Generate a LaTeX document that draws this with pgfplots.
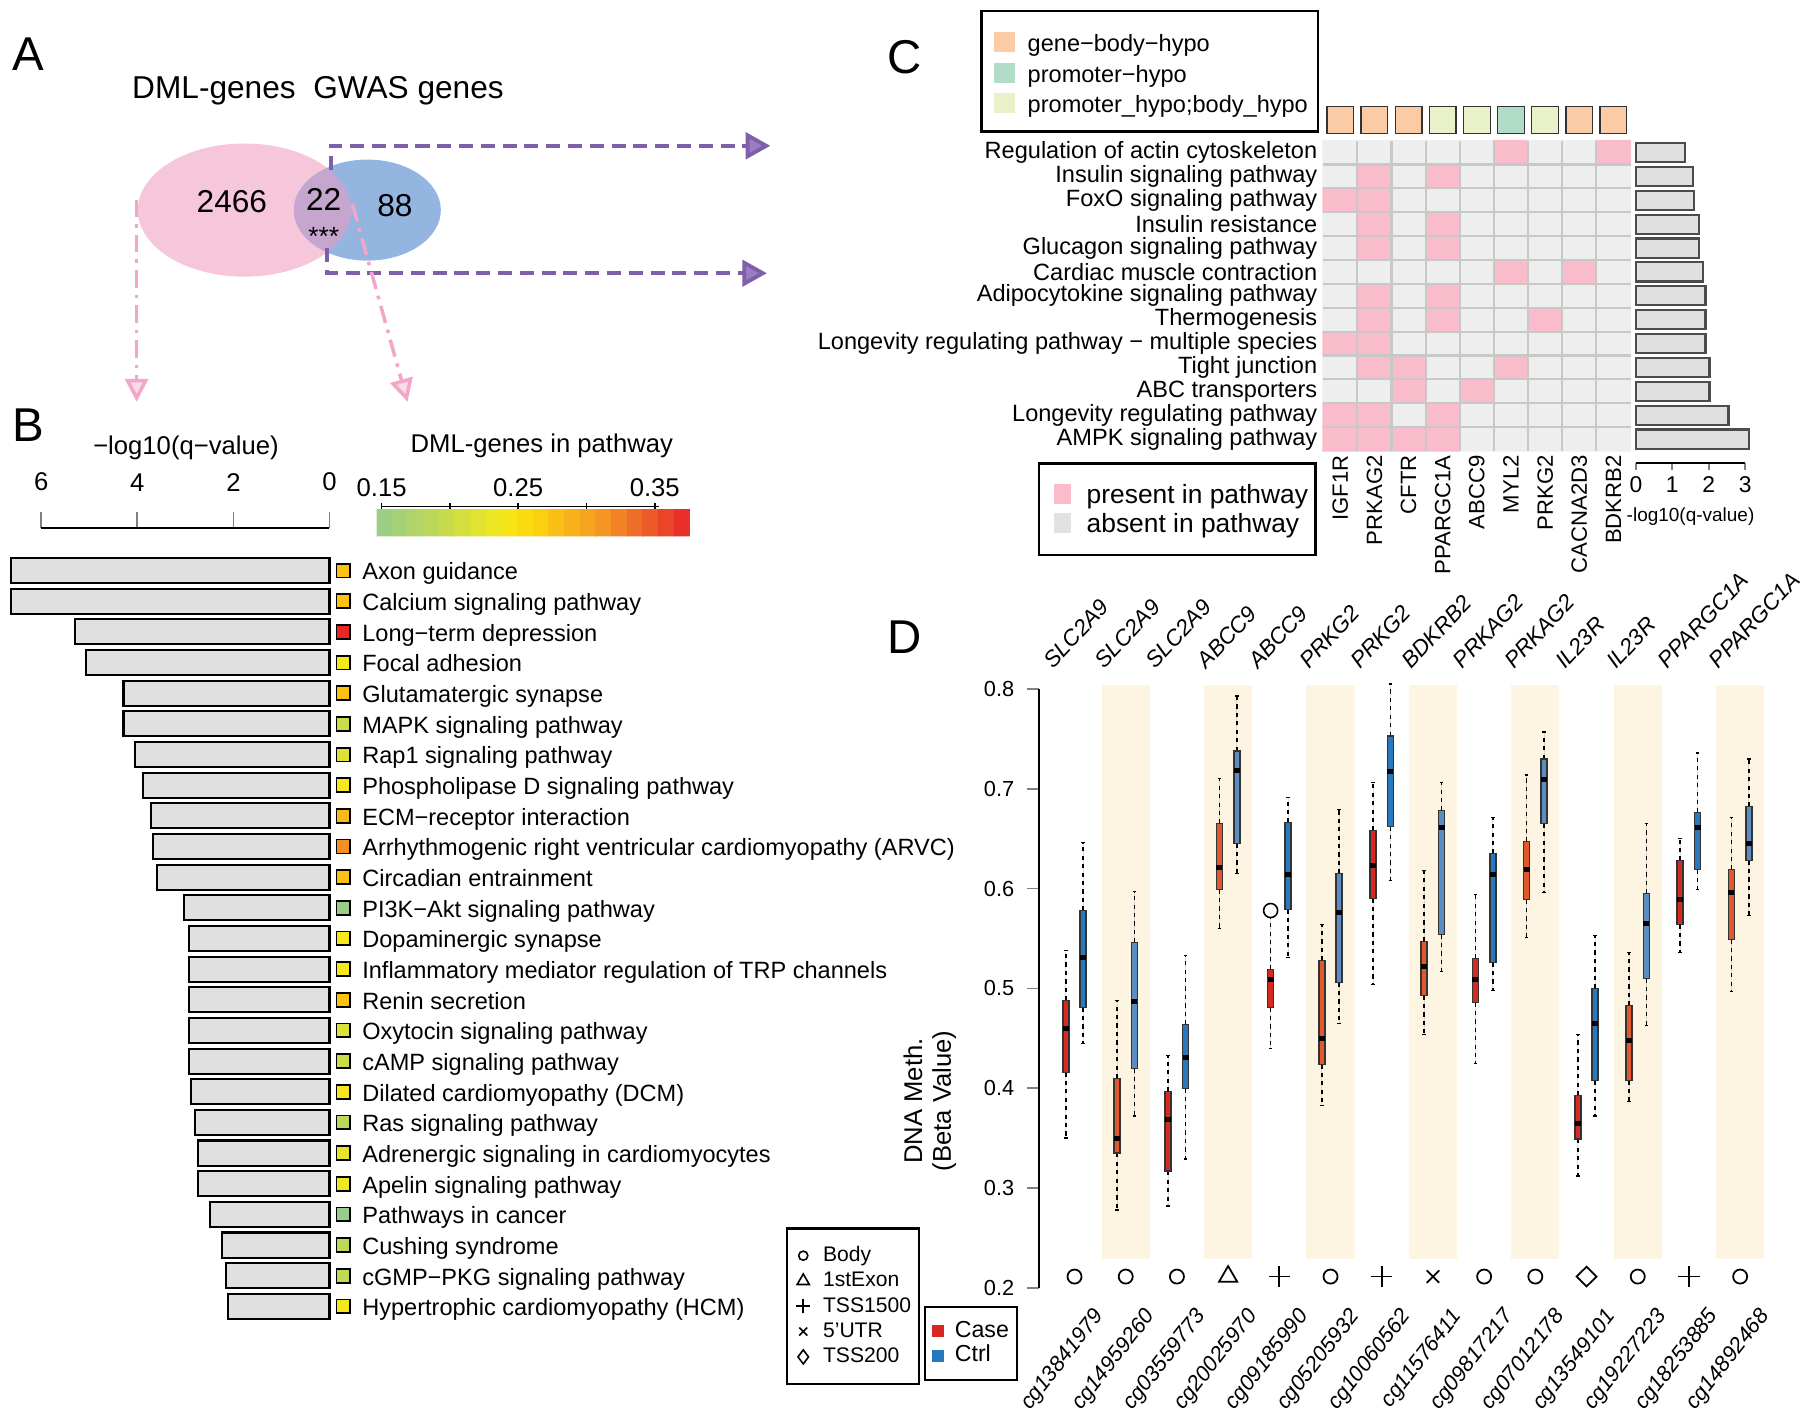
\documentclass[border=0pt]{standalone}
\usepackage{pgfplots}
\pgfplotsset{compat=1.18}
\usepgfplotslibrary{statistics}
\usetikzlibrary{arrows.meta}
\usepackage{fontspec}
\setmainfont{Liberation Sans}
\newcommand\fs[1]{\fontsize{#1}{#1}\selectfont}

\definecolor{vpink}{HTML}{F6C6DB}
\definecolor{vblue}{HTML}{93B5DF}
\definecolor{vmix}{HTML}{C4A6CE}
\definecolor{arrpur}{HTML}{7E5FAA}
\definecolor{arrpurl}{HTML}{9A7EC2}
\definecolor{arrpink}{HTML}{F2A6C8}
\definecolor{bargray}{HTML}{E0E0E0}
\definecolor{hmgray}{HTML}{EEEEEE}
\definecolor{hmpink}{HTML}{F8BCCA}
\definecolor{hmline}{HTML}{C8C8C8}
\definecolor{anpeach}{HTML}{FBCBA6}
\definecolor{anmint}{HTML}{B0DCC8}
\definecolor{anpale}{HTML}{E8F1C8}
\definecolor{band}{HTML}{FDF4E1}
\definecolor{caseU}{HTML}{D42A22}
\definecolor{caseS}{HTML}{E0582C}
\definecolor{ctrlU}{HTML}{2878BE}
\definecolor{ctrlS}{HTML}{5B8DC2}
\definecolor{boxedge}{HTML}{333333}

% one prepared box: position, lower whisker, q1, median, q3, upper whisker, fill
\newcommand\bx[7]{\addplot[forget plot, boxplot prepared={draw direction=y,
  draw position=#1, lower whisker=#2, lower quartile=#3, median=#4,
  upper quartile=#5, upper whisker=#6}, fill=#7, draw=boxedge] coordinates {};}

\begin{document}
\begin{tikzpicture}
\path[use as bounding box] (0,0) rectangle (180mm,-142.35mm);

% ---------------- text and Venn diagram (units: 1568x1240 frame)
\begin{scope}[x=0.1148mm,y=-0.1148mm]
\node[font=\fs{13.5}] at (25,47) {A};
\node[font=\fs{13.5}] at (25,370) {B};
\node[font=\fs{13.5}] at (788,50) {C};
\node[font=\fs{13.5}] at (788,555) {D};

\node[font=\fs{9}] at (277,79) {DML-genes\ \ GWAS genes};
\fill[vpink] (213,183) ellipse [x radius=93, y radius=58];
\fill[vblue] (320,183) ellipse [x radius=64, y radius=44];
\begin{scope}
\clip (213,183) ellipse [x radius=93, y radius=58];
\fill[vmix] (320,183) ellipse [x radius=64, y radius=44];
\end{scope}
\node[font=\fs{9}] at (202,176) {2466};
\node[font=\fs{9}] at (282,174) {22};
\node[font=\fs{7.5}] at (282,206) {***};
\node[font=\fs{9}] at (344,179) {88};
\draw[arrpur, line width=1.1pt, dash pattern=on 4pt off 2.2pt,
  -{Triangle[length=7pt,width=7.5pt,fill=arrpurl]}] (288,148) -- (288,127) -- (671,127);
\draw[arrpur, line width=1.1pt, dash pattern=on 4pt off 2.2pt,
  -{Triangle[length=7pt,width=7.5pt,fill=arrpurl]}] (285,216) -- (285,238) -- (668,238);
\draw[arrpink, line width=1pt, dash pattern=on 5pt off 2pt on 1pt off 2pt,
  -{Triangle[length=6.5pt,width=6.5pt,fill=arrpink!40]}] (119,174) -- (119,350);
\draw[arrpink, line width=1pt, dash pattern=on 5pt off 2pt on 1pt off 2pt,
  -{Triangle[length=6.5pt,width=6.5pt,fill=arrpink!40]}] (307,178) -- (355,350);

% panel B text
\node[font=\fs{7.3}] at (162,390) {−log10(q−value)};
\node[font=\fs{7.3}] at (472,388) {DML-genes in pathway};
\draw[line width=0.5pt] (332.5,441.3) -- (574.3,441.3);
\foreach \t [count=\i from 0] in {Axon guidance, Calcium signaling pathway,
  Long−term depression, Focal adhesion, Glutamatergic synapse,
  MAPK signaling pathway, Rap1 signaling pathway,
  Phospholipase D signaling pathway, ECM−receptor interaction,
  Arrhythmogenic right ventricular cardiomyopathy (ARVC),
  Circadian entrainment, PI3K−Akt signaling pathway, Dopaminergic synapse,
  Inflammatory mediator regulation of TRP channels, Renin secretion,
  Oxytocin signaling pathway, cAMP signaling pathway,
  Dilated cardiomyopathy (DCM), Ras signaling pathway,
  Adrenergic signaling in cardiomyocytes, Apelin signaling pathway,
  Pathways in cancer, Cushing syndrome, cGMP−PKG signaling pathway,
  Hypertrophic cardiomyopathy (HCM)}
  \node[anchor=mid west, font=\fs{6.7}, inner sep=0pt] at (315,497+\i*26.708) {\t};

% panel C legends
\draw[line width=0.8pt] (855,9.6) rectangle (1148,114.5);
\fill[anpeach] (865.6,27.9) rectangle (884.3,45.3);
\fill[anmint] (865.6,54.9) rectangle (884.3,72.3);
\fill[anpale] (865.6,81) rectangle (884.3,98.4);
\node[anchor=mid west, font=\fs{6.7}, inner sep=0pt] at (894.6,36.6) {gene−body−hypo};
\node[anchor=mid west, font=\fs{6.7}, inner sep=0pt] at (894.6,63.6) {promoter−hypo};
\node[anchor=mid west, font=\fs{6.7}, inner sep=0pt] at (894.6,89.7) {promoter\_hypo;body\_hypo};
\draw[line width=0.8pt] (905,404) rectangle (1146,483.5);
\fill[hmpink] (918,421.6) rectangle (933,439);
\fill[hmgray!95!black] (918,447) rectangle (933,464.6);
\node[anchor=mid west, font=\fs{7.5}, inner sep=0pt] at (946,430.5) {present in pathway};
\node[anchor=mid west, font=\fs{7.5}, inner sep=0pt] at (946,456) {absent in pathway};

% panel D labels
\node[rotate=90, align=center, font=\fontsize{7.3}{8.2}\selectfont] at (810,959) {DNA Meth.\\(Beta Value)};
\foreach \g [count=\i from 0] in {SLC2A9,SLC2A9,SLC2A9,ABCC9,ABCC9,PRKG2,PRKG2,
  BDKRB2,PRKAG2,PRKAG2,IL23R,IL23R,PPARGC1A,PPARGC1A}
  \node[rotate=47, anchor=base west, font=\fs{6.4}\itshape, inner sep=0pt] at (917+\i*44.6,584) {\g};
\foreach \g [count=\i from 0] in {cg13841979,cg14959260,cg03559773,cg20025970,
  cg09185990,cg05205932,cg10060562,cg11576411,cg09817217,cg07012178,
  cg13549101,cg19227223,cg18253885,cg14892468}
  \node[rotate=52, anchor=base east, font=\fs{6.2}\itshape, inner sep=0pt] at (962+\i*44.6,1146) {\g};
\end{scope}

% ---------------- panel B: bars, colour squares, colour bar
\begin{axis}[
  at={(32.948mm,-52.808mm)}, anchor=north east,
  scale only axis, width=28.815mm, height=79.367mm,
  xmin=0, xmax=6, x dir=reverse,
  ymin=-0.5, ymax=25.385,
  clip=false,
  axis x line*=top, axis y line=none,
  xtick={0,2,4,6}, xticklabels={0,2,4,6},
  tick align=outside, major tick length=4.7pt,
  x axis line style={-, line width=0.5pt},
  xtick style={line width=0.5pt},
  xticklabel style={font=\fs{7.3}, yshift=2.3pt},
  colormap={dml}{rgb255(0cm)=(150,205,140) rgb255(5cm)=(205,221,70)
    rgb255(8cm)=(245,233,30) rgb255(10cm)=(252,215,10) rgb255(12cm)=(250,185,25)
    rgb255(15cm)=(243,140,37) rgb255(18cm)=(236,80,42) rgb255(20cm)=(231,36,39)},
  point meta min=0.1463, point meta max=0.3758,
  colorbar horizontal, colorbar sampled,
  colorbar style={
    at={(parent axis.north east)}, anchor=north west,
    xshift=4.707mm, yshift=4.89mm,
    scale only axis, width=31.34mm, height=2.73mm,
    xtick={0.15,0.2,0.25,0.3,0.35}, xticklabels={0.15,,0.25,,0.35},
    xtick pos=upper, xticklabel pos=upper,
    tick align=outside, major tick length=1.8pt,
    xtick style={line width=0.5pt, black},
    axis line style={draw=none},
    xticklabel style={font=\fs{7.3}, yshift=-1.8pt},
    samples=21,
  },
]
\addplot[forget plot, xbar, bar width=0.82, fill=bargray, draw=black, line width=0.6pt]
  coordinates {(6.64,24) (6.64,23) (5.30,22) (5.07,21) (4.29,20) (4.29,19)
  (4.05,18) (3.88,17) (3.72,16) (3.67,15) (3.59,14) (3.03,13) (2.93,12)
  (2.93,11) (2.92,10) (2.92,9) (2.92,8) (2.89,7) (2.80,6) (2.73,5) (2.73,4)
  (2.48,3) (2.23,2) (2.15,1) (2.12,0)};
\addplot[forget plot, scatter, only marks, mark=square*, mark size=1.96pt,
  point meta=explicit, mark options={line width=0.5pt},
  scatter/use mapped color={draw=black, fill=mapped color}]
  coordinates {(-0.288,24)[0.277] (-0.288,23)[0.277] (-0.288,22)[0.375]
  (-0.288,21)[0.238] (-0.288,20)[0.277] (-0.288,19)[0.201] (-0.288,18)[0.217]
  (-0.288,17)[0.238] (-0.288,16)[0.284] (-0.288,15)[0.316] (-0.288,14)[0.277]
  (-0.288,13)[0.151] (-0.288,12)[0.238] (-0.288,11)[0.238] (-0.288,10)[0.277]
  (-0.288,9)[0.217] (-0.288,8)[0.201] (-0.288,7)[0.240] (-0.288,6)[0.188]
  (-0.288,5)[0.225] (-0.288,4)[0.232] (-0.288,3)[0.147] (-0.288,2)[0.188]
  (-0.288,1)[0.190] (-0.288,0)[0.236]};
\end{axis}

% ---------------- panel C: heat map of genes in pathways (row 0 at top)
\begin{axis}[
  at={(132.32mm,-14.063mm)}, anchor=north west,
  scale only axis, width=30.73mm, height=31.04mm,
  xmin=-0.5, xmax=8.5, ymin=-0.5, ymax=12.5, y dir=reverse,
  clip=false, axis line style={draw=none}, axis on top,
  xtick={0,...,8},
  xticklabels={IGF1R,PRKAG2,CFTR,PPARGC1A,ABCC9,MYL2,PRKG2,CACNA2D3,BDKRB2},
  ytick={0,...,12},
  yticklabels={Regulation of actin cytoskeleton, Insulin signaling pathway,
    FoxO signaling pathway, Insulin resistance, Glucagon signaling pathway,
    Cardiac muscle contraction, Adipocytokine signaling pathway, Thermogenesis,
    Longevity regulating pathway − multiple species, Tight junction,
    ABC transporters, Longevity regulating pathway, AMPK signaling pathway},
  minor xtick={0.5,1.5,...,7.5}, minor ytick={0.5,1.5,...,11.5},
  xminorgrids, yminorgrids, minor grid style={hmline, line width=0.6pt},
  major tick length=0pt, minor tick length=0pt,
  xticklabel style={rotate=90, anchor=east, font=\fs{6.3}, inner sep=1pt},
  yticklabel style={font=\fs{6.7}, inner sep=1.5pt},
  colormap={hm}{color=(hmgray) color=(hmpink)},
  point meta min=0, point meta max=1,
]
\addplot[matrix plot*, mesh/cols=9, point meta=explicit]
  coordinates {
  (0,0)[0] (1,0)[0] (2,0)[0] (3,0)[0] (4,0)[0] (5,0)[1] (6,0)[0] (7,0)[0] (8,0)[1]
  (0,1)[0] (1,1)[1] (2,1)[0] (3,1)[1] (4,1)[0] (5,1)[0] (6,1)[0] (7,1)[0] (8,1)[0]
  (0,2)[1] (1,2)[1] (2,2)[0] (3,2)[0] (4,2)[0] (5,2)[0] (6,2)[0] (7,2)[0] (8,2)[0]
  (0,3)[0] (1,3)[1] (2,3)[0] (3,3)[1] (4,3)[0] (5,3)[0] (6,3)[0] (7,3)[0] (8,3)[0]
  (0,4)[0] (1,4)[1] (2,4)[0] (3,4)[1] (4,4)[0] (5,4)[0] (6,4)[0] (7,4)[0] (8,4)[0]
  (0,5)[0] (1,5)[0] (2,5)[0] (3,5)[0] (4,5)[0] (5,5)[1] (6,5)[0] (7,5)[1] (8,5)[0]
  (0,6)[0] (1,6)[1] (2,6)[0] (3,6)[1] (4,6)[0] (5,6)[0] (6,6)[0] (7,6)[0] (8,6)[0]
  (0,7)[0] (1,7)[1] (2,7)[0] (3,7)[1] (4,7)[0] (5,7)[0] (6,7)[1] (7,7)[0] (8,7)[0]
  (0,8)[1] (1,8)[1] (2,8)[0] (3,8)[0] (4,8)[0] (5,8)[0] (6,8)[0] (7,8)[0] (8,8)[0]
  (0,9)[0] (1,9)[1] (2,9)[1] (3,9)[0] (4,9)[0] (5,9)[1] (6,9)[0] (7,9)[0] (8,9)[0]
  (0,10)[0] (1,10)[0] (2,10)[1] (3,10)[0] (4,10)[1] (5,10)[0] (6,10)[0] (7,10)[0] (8,10)[0]
  (0,11)[1] (1,11)[1] (2,11)[0] (3,11)[1] (4,11)[0] (5,11)[0] (6,11)[0] (7,11)[0] (8,11)[0]
  (0,12)[1] (1,12)[1] (2,12)[1] (3,12)[1] (4,12)[0] (5,12)[0] (6,12)[0] (7,12)[0] (8,12)[0]
  };
\addplot[scatter, only marks, scatter src=explicit symbolic,
  scatter/classes={
    pe={mark=square*, mark size=3.8pt, fill=anpeach, draw=black!80, line width=0.4pt},
    mi={mark=square*, mark size=3.8pt, fill=anmint, draw=black!80, line width=0.4pt},
    pa={mark=square*, mark size=3.8pt, fill=anpale, draw=black!80, line width=0.4pt}}]
  table[meta=c] {
x y c
0 -1.365 pe
1 -1.365 pe
2 -1.365 pe
3 -1.365 pa
4 -1.365 pa
5 -1.365 mi
6 -1.365 pa
7 -1.365 pe
8 -1.365 pe
};
\end{axis}

% ---------------- panel C: -log10(q) bars
\begin{axis}[
  at={(163.59mm,-14.063mm)}, anchor=north west,
  scale only axis, width=10.93mm, height=32.20mm,
  xmin=0, xmax=3, ymin=-0.986, ymax=12.5, clip=false,
  axis x line*=bottom, axis y line=none,
  x axis line style={-, line width=0.5pt},
  xtick={0,1,2,3}, xticklabels={0,1,2,3},
  tick align=outside, major tick length=2pt,
  xtick style={line width=0.5pt},
  xticklabel style={font=\fs{6.5}, yshift=1.5pt},
  xlabel={-log10(q-value)}, xlabel style={font=\fs{5.4}, yshift=2.6pt},
]
\addplot[xbar, bar width=0.8, fill=bargray, draw=black!70, line width=0.6pt]
  coordinates {(3.10,0) (2.54,1) (2.02,2) (2.02,3) (1.91,4) (1.91,5) (1.91,6)
  (1.85,7) (1.73,8) (1.73,9) (1.59,10) (1.56,11) (1.34,12)};
\end{axis}

% ---------------- panel D: boxplots
\begin{axis}[
  at={(103.894mm,-128.806mm)}, anchor=south west,
  scale only axis, width=73.449mm, height=59.926mm,
  xmin=0.305, xmax=14.65, ymin=0.2, ymax=0.8, clip=false,
  axis y line*=left, axis x line=none,
  y axis line style={-, line width=0.5pt},
  ytick={0.2,0.3,0.4,0.5,0.6,0.7,0.8},
  yticklabels={0.2,0.3,0.4,0.5,0.6,0.7,0.8},
  tick align=outside, major tick length=3.5pt,
  ytick style={line width=0.5pt},
  yticklabel style={font=\fs{6.2}},
  boxplot/draw direction=y,
  boxplot/box extend=0.117,
  boxplot/whisker extend=0.07,
  boxplot/every whisker/.style={black, dash pattern=on 1.2pt off 1.2pt, line width=0.45pt},
  boxplot/every median/.style={black, line width=1.3pt},
  boxplot/every box/.style={line width=0.45pt},
]
\addplot[forget plot, fill=band, draw=none] coordinates {(1.53,0.2287) (2.47,0.2287) (2.47,0.8034) (1.53,0.8034)} -- cycle;
\addplot[forget plot, fill=band, draw=none] coordinates {(3.53,0.2287) (4.47,0.2287) (4.47,0.8034) (3.53,0.8034)} -- cycle;
\addplot[forget plot, fill=band, draw=none] coordinates {(5.53,0.2287) (6.47,0.2287) (6.47,0.8034) (5.53,0.8034)} -- cycle;
\addplot[forget plot, fill=band, draw=none] coordinates {(7.53,0.2287) (8.47,0.2287) (8.47,0.8034) (7.53,0.8034)} -- cycle;
\addplot[forget plot, fill=band, draw=none] coordinates {(9.53,0.2287) (10.47,0.2287) (10.47,0.8034) (9.53,0.8034)} -- cycle;
\addplot[forget plot, fill=band, draw=none] coordinates {(11.53,0.2287) (12.47,0.2287) (12.47,0.8034) (11.53,0.8034)} -- cycle;
\addplot[forget plot, fill=band, draw=none] coordinates {(13.53,0.2287) (14.47,0.2287) (14.47,0.8034) (13.53,0.8034)} -- cycle;
\bx{0.83}{0.350}{0.416}{0.460}{0.488}{0.538}{caseU}
\bx{1.17}{0.445}{0.481}{0.531}{0.578}{0.646}{ctrlU}
\bx{1.83}{0.278}{0.335}{0.350}{0.410}{0.488}{caseS}
\bx{2.17}{0.372}{0.420}{0.487}{0.546}{0.597}{ctrlS}
\bx{2.83}{0.282}{0.317}{0.369}{0.397}{0.433}{caseU}
\bx{3.17}{0.329}{0.400}{0.431}{0.464}{0.533}{ctrlU}
\bx{3.83}{0.560}{0.599}{0.621}{0.665}{0.710}{caseS}
\bx{4.17}{0.615}{0.645}{0.718}{0.738}{0.793}{ctrlS}
\bx{4.83}{0.440}{0.481}{0.509}{0.519}{0.571}{caseU}
\bx{5.17}{0.531}{0.579}{0.614}{0.666}{0.691}{ctrlU}
\bx{5.83}{0.383}{0.424}{0.450}{0.528}{0.564}{caseS}
\bx{6.17}{0.465}{0.506}{0.576}{0.615}{0.679}{ctrlS}
\bx{6.83}{0.504}{0.590}{0.623}{0.658}{0.706}{caseU}
\bx{7.17}{0.608}{0.662}{0.717}{0.753}{0.805}{ctrlU}
\bx{7.83}{0.454}{0.493}{0.522}{0.547}{0.618}{caseS}
\bx{8.17}{0.517}{0.554}{0.661}{0.678}{0.706}{ctrlS}
\bx{8.83}{0.425}{0.486}{0.509}{0.530}{0.594}{caseU}
\bx{9.17}{0.498}{0.526}{0.614}{0.635}{0.671}{ctrlU}
\bx{9.83}{0.551}{0.589}{0.619}{0.647}{0.714}{caseS}
\bx{10.17}{0.596}{0.665}{0.709}{0.730}{0.757}{ctrlS}
\bx{10.83}{0.312}{0.349}{0.365}{0.393}{0.454}{caseU}
\bx{11.17}{0.372}{0.408}{0.465}{0.500}{0.553}{ctrlU}
\bx{11.83}{0.387}{0.408}{0.448}{0.483}{0.536}{caseS}
\bx{12.17}{0.463}{0.510}{0.565}{0.595}{0.665}{ctrlS}
\bx{12.83}{0.536}{0.564}{0.589}{0.628}{0.650}{caseU}
\bx{13.17}{0.599}{0.619}{0.661}{0.676}{0.736}{ctrlU}
\bx{13.83}{0.497}{0.549}{0.596}{0.619}{0.671}{caseS}
\bx{14.17}{0.573}{0.628}{0.645}{0.682}{0.730}{ctrlS}
\addplot[forget plot, only marks, mark=o, mark size=2pt, black, line width=0.45pt]
  coordinates {(4.83,0.578)};
\addplot[forget plot, scatter, only marks, scatter src=explicit symbolic, line width=0.5pt,
  scatter/classes={
    b={mark=o, mark size=2pt, draw=black},
    e={mark=triangle, mark size=3pt, draw=black},
    p={mark=+, mark size=3pt, draw=black},
    u={mark=x, mark size=2.5pt, draw=black},
    d={mark=diamond, mark size=2.8pt, draw=black, xscale=1.35}}]
  table[meta=c] {
x y c
1 0.2115 b
2 0.2115 b
3 0.2115 b
4 0.2115 e
5 0.2115 p
6 0.2115 b
7 0.2115 p
8 0.2115 u
9 0.2115 b
10 0.2115 b
11 0.2115 d
12 0.2115 b
13 0.2115 p
14 0.2115 b
};
\end{axis}

% ---------------- panel D: legend of probe positions
\begin{axis}[
  hide axis, scale only axis, width=1mm, height=1mm,
  xmin=0, xmax=1, ymin=0, ymax=1,
  at={(78.592mm,-122.721mm)}, anchor=north west,
  legend style={at={(0,1)}, anchor=north west, draw=black, line width=0.7pt,
    font=\fs{6.0}, inner xsep=1.5pt, inner ysep=4.8pt, row sep=1.3pt,
    nodes={inner xsep=0.8pt, inner ysep=0pt, text height=4.6pt, text depth=1.3pt},
    legend cell align=left},
  legend image code/.code={\path (0,0) (0.254cm,0);
    \draw[#1, line width=0.45pt] plot coordinates {(0.096cm,0cm)};},
]
\addlegendimage{only marks, mark=o, mark size=1.3pt, black}
\addlegendentry{Body}
\addlegendimage{only marks, mark=triangle, mark size=2pt, black}
\addlegendentry{1stExon}
\addlegendimage{only marks, mark=+, mark size=2pt, black}
\addlegendentry{TSS1500}
\addlegendimage{only marks, mark=x, mark size=1.6pt, black}
\addlegendentry{5'UTR}
\addlegendimage{only marks, mark=diamond, mark size=2pt, black}
\addlegendentry{TSS200}
\end{axis}

% ---------------- panel D: legend of groups
\begin{axis}[
  hide axis, scale only axis, width=1mm, height=1mm,
  xmin=0, xmax=1, ymin=0, ymax=1,
  at={(92.403mm,-130.596mm)}, anchor=north west,
  legend style={at={(0,1)}, anchor=north west, draw=black, line width=0.7pt,
    font=\fs{6.6}, inner xsep=1.5pt, inner ysep=3.65pt, row sep=0.4pt,
    nodes={inner xsep=0.8pt, inner ysep=0pt, text height=5pt, text depth=1.5pt},
    legend cell align=left},
  legend image code/.code={\path (0,0) (0.19cm,0);
    \draw[#1] plot coordinates {(0.063cm,0cm)};},
]
\addlegendimage{only marks, mark=square*, mark size=1.35pt, caseU}
\addlegendentry{Case}
\addlegendimage{only marks, mark=square*, mark size=1.35pt, ctrlU}
\addlegendentry{Ctrl}
\end{axis}
\end{tikzpicture}
\end{document}
